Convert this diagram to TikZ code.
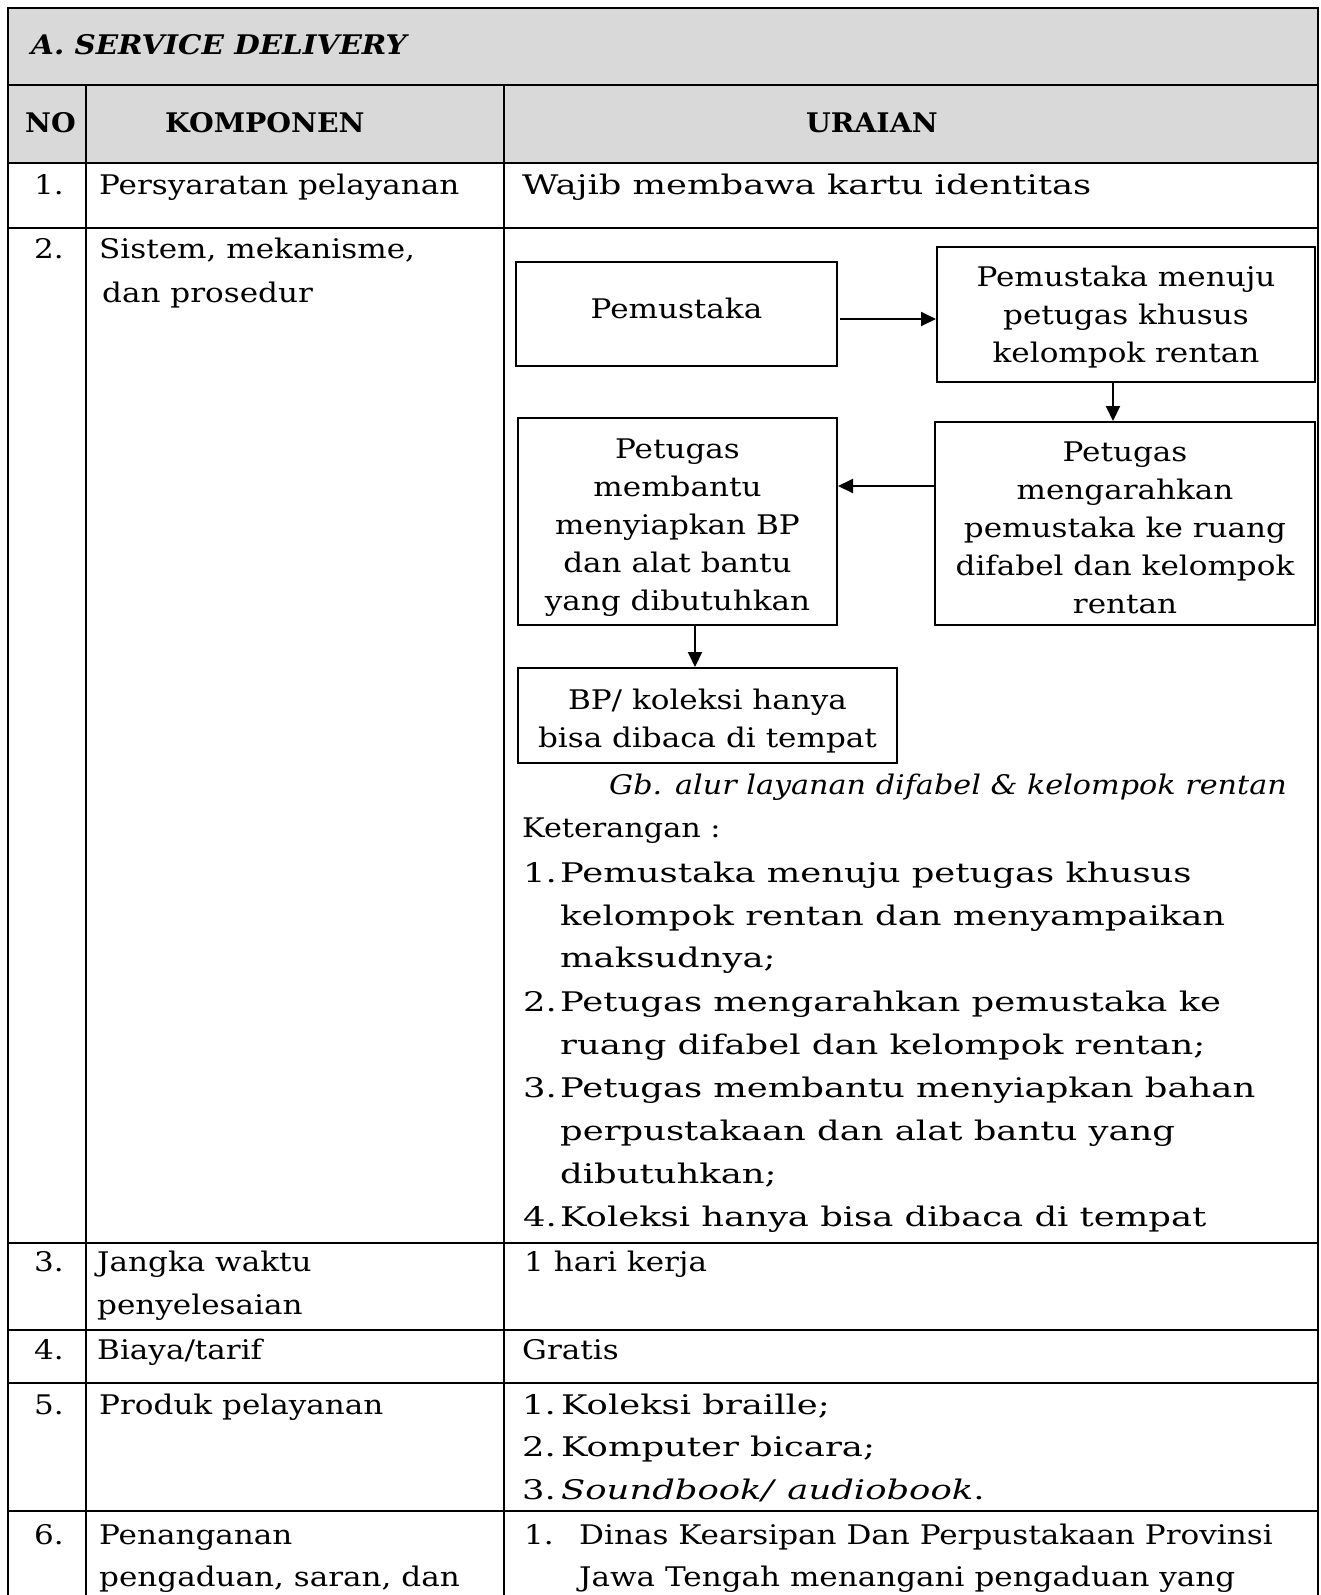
\documentclass[tikz,border=0pt]{standalone}
\usepackage{fontspec}
\setmainfont{DejaVu Serif}[FakeStretch=1.15]
\newfontfamily\widefont{DejaVu Serif}[FakeStretch=1.31]
\newfontfamily\headfont{DejaVu Serif}[FakeStretch=1.05]
\newfontfamily\titlefont{DejaVu Serif}[FakeStretch=1.09]
\newfontfamily\capfont{DejaVu Serif}[FakeStretch=1.12]
\usetikzlibrary{arrows.meta}
\definecolor{headgray}{RGB}{217,217,217}
\newcommand\txtsize{\fontsize{27}{42.7}\selectfont}
\newcommand\flowsize{\fontsize{27}{38}\selectfont}
\begin{document}
\begin{tikzpicture}[x=1pt,y=-1pt,
  tbl/.style={line width=2pt},
  txt/.style={anchor=base west, inner sep=0pt, font=\txtsize},
  wide/.style={anchor=base west, inner sep=0pt, font=\widefont\txtsize},
  hdr/.style={anchor=base west, inner sep=0pt, font=\headfont\txtsize\bfseries},
  flowbox/.style={draw, line width=2pt, inner sep=0pt},
  flowtxt/.style={align=center, inner sep=0pt, font=\flowsize},
  flowarrow/.style={line width=2pt, -{Triangle[length=15pt,width=14pt]}}]
\useasboundingbox (0,0) rectangle (1321,1595);
\clip (0,0) rectangle (1321,1595);

% header band
\fill[headgray] (8,8) rectangle (1318,163);

% table frame and rules
\draw[tbl] (8,1620) -- (8,8) -- (1318,8) -- (1318,1620);
\foreach \yy in {85,163,228,1243,1330,1383,1511}
  \draw[tbl] (8,\yy) -- (1318,\yy);
\draw[tbl] (86,85) -- (86,1620);
\draw[tbl] (504,85) -- (504,1620);

% headings
\node[hdr, font=\titlefont\txtsize\bfseries\itshape] (title) at (31,55) {A. SERVICE DELIVERY};
\node[hdr] (hno) at (25,132) {NO};
\node[hdr] (hkomp) at (165,132) {KOMPONEN};
\node[hdr] (hur) at (806,132) {URAIAN};

% row 1
\node[txt] (n1) at (34,194) {1.};
\node[txt] (k1) at (99,194) {Persyaratan pelayanan};
\node[wide] (u1) at (522,194) {Wajib membawa kartu identitas};

% row 2
\node[txt] (n2) at (34,258) {2.};
\node[txt] (k2a) at (99,258) {Sistem, mekanisme,};
\node[txt] (k2b) at (102,302) {dan prosedur};

% flow of the service
\node[flowbox, minimum width=321pt, minimum height=104pt,
  label={[flowtxt, yshift=6pt]center:Pemustaka}] (pem) at (676.5,314) {};
\node[flowbox, minimum width=378pt, minimum height=135pt,
  label={[flowtxt, yshift=-3pt]center:{Pemustaka menuju\\petugas khusus\\kelompok rentan}}] (menuju) at (1126,314.5) {};
\node[flowbox, minimum width=380pt, minimum height=203pt,
  label={[flowtxt, yshift=-4pt]center:{Petugas\\mengarahkan\\pemustaka ke ruang\\difabel dan kelompok\\rentan}}] (arah) at (1125,523.5) {};
\node[flowbox, minimum width=319pt, minimum height=207pt,
  label={[flowtxt, yshift=-6.5pt]center:{Petugas\\membantu\\menyiapkan BP\\dan alat bantu\\yang dibutuhkan}}] (bantu) at (677.5,521.5) {};
\node[flowbox, minimum width=379pt, minimum height=95pt,
  label={[flowtxt, yshift=-5.5pt]center:{BP/ koleksi hanya\\bisa dibaca di tempat}}] (baca) at (707.5,715.5) {};

\draw[flowarrow] ([xshift=2pt,yshift=-5pt]pem.east) -- ([yshift=-5pt]pem.east -| menuju.west);
\draw[flowarrow] ([xshift=-13pt]menuju.south) -- ([xshift=-13pt]menuju.south |- arah.north);
\draw[flowarrow] ([yshift=37.5pt]arah.west) -- ([yshift=37.5pt]arah.west -| bantu.east);
\draw[flowarrow] ([xshift=17.5pt]bantu.south) -- ([xshift=17.5pt]bantu.south |- baca.north);

\node[txt, font=\capfont\txtsize\itshape] (cap) at (609,794) {Gb. alur layanan difabel \& kelompok rentan};

\node[txt, font=\capfont\txtsize] (ket) at (522,837) {Keterangan :};
\node[wide] (l1) at (523,882) {1.};
\node[wide] (l1a) at (560,882) {Pemustaka menuju petugas khusus};
\node[wide] (l1b) at (560,925) {kelompok rentan dan menyampaikan};
\node[wide] (l1c) at (560,967) {maksudnya;};
\node[wide] (l2) at (523,1011) {2.};
\node[wide] (l2a) at (560,1011) {Petugas mengarahkan pemustaka ke};
\node[wide] (l2b) at (560,1054) {ruang difabel dan kelompok rentan;};
\node[wide] (l3) at (523,1097) {3.};
\node[wide] (l3a) at (560,1097) {Petugas membantu menyiapkan bahan};
\node[wide] (l3b) at (560,1140) {perpustakaan dan alat bantu yang};
\node[wide] (l3c) at (560,1183) {dibutuhkan;};
\node[wide] (l4) at (523,1226) {4.};
\node[wide] (l4a) at (560,1226) {Koleksi hanya bisa dibaca di tempat};

% row 3
\node[txt] (n3) at (34,1271) {3.};
\node[txt] (k3a) at (97,1271) {Jangka waktu};
\node[txt] (k3b) at (97,1314) {penyelesaian};
\node[txt] (u3) at (524,1271) {1 hari kerja};

% row 4
\node[txt] (n4) at (34,1359) {4.};
\node[txt] (k4) at (97,1359) {Biaya/tarif};
\node[txt] (u4) at (522,1359) {Gratis};

% row 5
\node[txt] (n5) at (34,1414) {5.};
\node[txt] (k5) at (99,1414) {Produk pelayanan};
\node[wide] (p1) at (522,1414) {1.};
\node[wide] (p1a) at (561,1414) {Koleksi braille;};
\node[wide] (p2) at (522,1456) {2.};
\node[wide] (p2a) at (561,1456) {Komputer bicara;};
\node[wide] (p3) at (522,1499) {3.};
\node[wide] (p3a) at (561,1499) {\itshape Soundbook/\hspace{14pt}audiobook\upshape.};

% row 6
\node[txt] (n6) at (34,1544) {6.};
\node[txt] (k6a) at (99,1544) {Penanganan};
\node[txt] (k6b) at (99,1586) {pengaduan, saran, dan};
\node[txt] (q1) at (524,1544) {1.};
\node[txt] (q1a) at (579,1544) {Dinas Kearsipan Dan Perpustakaan Provinsi};
\node[txt] (q1b) at (579,1586) {Jawa Tengah menangani pengaduan yang};
\end{tikzpicture}
\end{document}
